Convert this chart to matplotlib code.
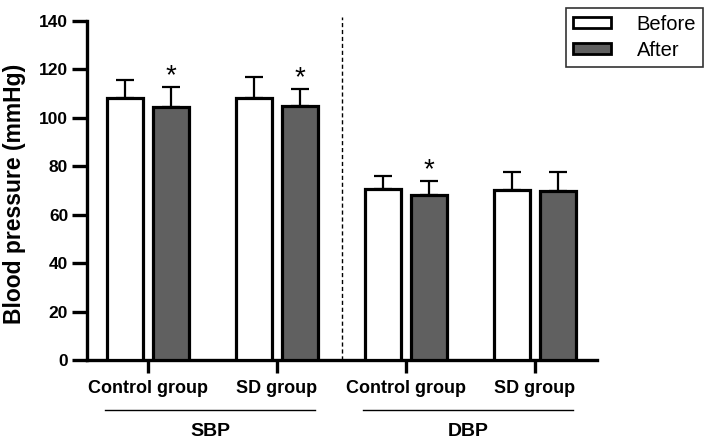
import matplotlib.pyplot as plt
import numpy as np
from matplotlib.patches import Patch

# data
groups = ['Control group', 'SD group', 'Control group', 'SD group']
before_mean = [108.3, 108.2, 70.5, 70.1]
before_sd = [7.2, 8.7, 5.6, 7.4]
after_mean = [104.4, 104.9, 68.0, 69.7]
after_sd = [8.2, 6.9, 5.8, 7.8]
after_star = [True, True, True, False]
sections = ['SBP', 'DBP']

plt.rcParams['font.family'] = ['Liberation Sans', 'DejaVu Sans']
plt.rcParams['font.weight'] = 'bold'

fig = plt.figure(figsize=(7.09, 4.44), dpi=100)
ax = fig.add_axes([0.1227, 0.189, 0.7193, 0.764])

x = np.arange(len(groups))
w = 0.28
off = 0.176
lw_bar = 2.3
dark = '#606060'

ax.bar(x - off, before_mean, w, color='white', edgecolor='black', linewidth=lw_bar, zorder=3)
ax.bar(x + off, after_mean, w, color=dark, edgecolor='black', linewidth=lw_bar, zorder=3)

# one-sided error bars
ax.errorbar(x - off, before_mean, yerr=[np.zeros(4), before_sd], fmt='none',
            ecolor='black', elinewidth=1.6, capsize=6.5, capthick=1.6, zorder=2)
ax.errorbar(x + off, after_mean, yerr=[np.zeros(4), after_sd], fmt='none',
            ecolor='black', elinewidth=1.6, capsize=6.5, capthick=1.6, zorder=2)

for i in range(len(groups)):
    if after_star[i]:
        ax.text(x[i] + off, after_mean[i] + after_sd[i] - 1.0, '*', ha='center', va='bottom',
                fontsize=20, fontweight='normal')

# separator
ax.plot([1.5, 1.5], [0, 141.5], linestyle=(0, (3, 2)), color='black', linewidth=1.0, clip_on=False)

ax.set_xlim(-0.473, 3.48)
ax.set_ylim(0, 140)
ax.set_yticks(np.arange(0, 141, 20))
ax.set_xticks(x)
ax.set_xticklabels(groups, fontsize=13, fontweight='bold')
for sp in ['top', 'right']:
    ax.spines[sp].set_visible(False)
for sp in ['left', 'bottom']:
    ax.spines[sp].set_linewidth(2.4)
ax.tick_params(axis='y', length=10.5, width=2.4, labelsize=12.5, pad=3)
ax.tick_params(axis='x', length=9.5, width=2.4, pad=5)
for lab in ax.get_yticklabels():
    lab.set_fontweight('bold')

ax.set_ylabel('Blood pressure (mmHg)', fontsize=16.5, fontweight='bold')
ax.yaxis.set_label_coords(-0.12, 0.49)

# section underlines and labels
for k, name in enumerate(sections):
    x0 = 2 * k - off - w / 2 - 0.02
    x1 = 2 * k + 1 + off + w / 2 - 0.02
    ax.plot([x0, x1], [-20.6, -20.6], color='black', linewidth=1.0, clip_on=False)
    ax.text((x0 + x1) / 2, -29.5, name, ha='center', va='center', fontsize=14, fontweight='bold')

handles = [Patch(facecolor='white', edgecolor='black', linewidth=2),
           Patch(facecolor=dark, edgecolor='black', linewidth=2)]
leg = fig.legend(handles, ['Before', 'After'], loc='upper right', bbox_to_anchor=(0.992, 0.983),
                 frameon=True, fancybox=False, edgecolor='black', fontsize=14.5,
                 handlelength=1.85, handleheight=0.45, borderpad=0.35, labelspacing=0.35,
                 handletextpad=1.3, borderaxespad=0.0)
leg.get_frame().set_linewidth(1.2)
for t in leg.get_texts():
    t.set_fontweight('normal')

plt.savefig('out.png', dpi=100)
